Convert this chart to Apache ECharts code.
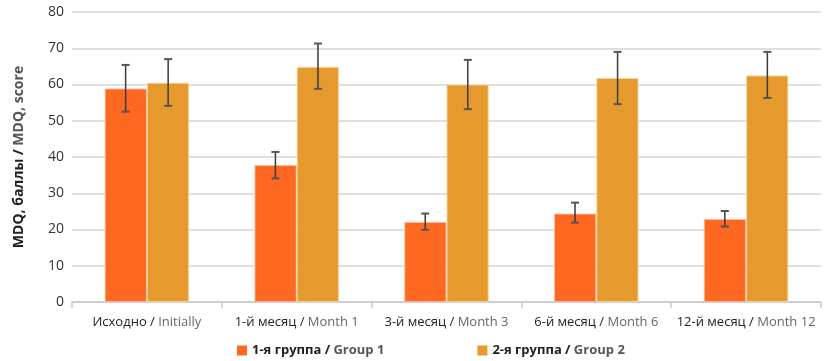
<!DOCTYPE html>
<html>
<head>
<meta charset="utf-8">
<script src="https://cdn.jsdelivr.net/npm/echarts@6/dist/echarts.min.js"></script>
<style>html,body{margin:0;padding:0;background:#fff}#c{width:835px;height:361px}</style>
</head>
<body>
<div id="c"></div>
<script>
var catsRu = ['Исходно', '1-й месяц', '3-й месяц', '6-й месяц', '12-й месяц'];
var catsEn = ['Initially', 'Month 1', 'Month 3', 'Month 6', 'Month 12'];
var group1 = [58.9, 37.8, 22.1, 24.4, 22.9];
var group1Low = [52.5, 34.1, 19.9, 21.9, 20.8];
var group1High = [65.4, 41.4, 24.4, 27.4, 25.1];
var group2 = [60.5, 64.9, 60.0, 61.8, 62.5];
var group2Low = [54.1, 58.8, 53.2, 54.6, 56.3];
var group2High = [67.0, 71.3, 66.8, 69.0, 69.0];
var yTicks = [0, 10, 20, 30, 40, 50, 60, 70, 80];
var seriesRu = ['1-я группа', '2-я группа'];
var seriesEn = ['Group 1', 'Group 2'];

var FONT = '"Open Sans", "Noto Sans", sans-serif';
var cats = catsRu.map(function (r, i) { return r + '|' + catsEn[i]; });
var names = seriesRu.map(function (r, i) { return r + ' / ' + seriesEn[i]; });

function errData(lo, hi) {
  return lo.map(function (l, i) { return [i, l, hi[i]]; });
}
function errSeries(lo, hi, side) {
  return {
    type: 'custom',
    data: errData(lo, hi),
    z: 10,
    silent: true,
    renderItem: function (params, api) {
      var idx = api.value(0);
      var pLo = api.coord([idx, api.value(1)]);
      var pHi = api.coord([idx, api.value(2)]);
      var band = api.size([1, 0])[0];
      var x = pLo[0] + side * band * 0.142;
      var cap = 4;
      var st = { stroke: '#3a3a3a', lineWidth: 1.5 };
      return {
        type: 'group',
        children: [
          { type: 'line', shape: { x1: x, y1: pLo[1], x2: x, y2: pHi[1] }, style: st },
          { type: 'line', shape: { x1: x - cap, y1: pLo[1], x2: x + cap, y2: pLo[1] }, style: { stroke: '#555', lineWidth: 2 } },
          { type: 'line', shape: { x1: x - cap, y1: pHi[1], x2: x + cap, y2: pHi[1] }, style: { stroke: '#555', lineWidth: 2 } }
        ]
      };
    }
  };
}

var chart = echarts.init(document.getElementById('c'));
chart.setOption({
  animation: false,
  textStyle: { fontFamily: FONT },
  grid: { left: 72, right: 14, top: 12, bottom: 59, containLabel: false },
  legend: {
    data: names,
    left: 232,
    top: 339,
    itemWidth: 10,
    itemHeight: 10,
    itemGap: 93,
    icon: 'rect',
    itemStyle: { borderWidth: 0 },
    formatter: function (n) {
      var p = n.split(' / ');
      return '{a|' + p[0] + ' / }{b|' + p[1] + '}';
    },
    textStyle: {
      fontFamily: FONT,
      fontSize: 13,
      fontWeight: 'bold',
      rich: {
        a: { fontFamily: FONT, fontSize: 13, fontWeight: 'bold', color: '#222' },
        b: { fontFamily: FONT, fontSize: 13, fontWeight: 'bold', color: '#555' }
      }
    }
  },
  xAxis: {
    type: 'category',
    data: cats,
    axisLine: { lineStyle: { color: '#c8c8c8', width: 1.5 } },
    axisTick: { show: true, length: 6, lineStyle: { color: '#c8c8c8', width: 1.5 } },
    axisLabel: {
      interval: 0,
      margin: 14,
      formatter: function (v) {
        var p = v.split('|');
        return '{a|' + p[0] + ' / }{b|' + p[1] + '}';
      },
      rich: {
        a: { fontFamily: FONT, fontSize: 13, color: '#222' },
        b: { fontFamily: FONT, fontSize: 13, color: '#666' }
      }
    }
  },
  yAxis: {
    type: 'value',
    min: yTicks[0],
    max: yTicks[yTicks.length - 1],
    interval: 10,
    name: '{a|MDQ, баллы / }{b|MDQ, score}',
    nameLocation: 'middle',
    nameGap: 46,
    nameRotate: 90,
    nameTextStyle: {
      rich: {
        a: { fontFamily: FONT, fontSize: 14, fontWeight: 'bold', color: '#222' },
        b: { fontFamily: FONT, fontSize: 14, fontWeight: 'bold', color: '#555' }
      }
    },
    axisLine: { show: false },
    axisTick: { show: false },
    axisLabel: { fontFamily: FONT, fontSize: 14, color: '#333', margin: 8 },
    splitLine: { lineStyle: { color: '#d4d4d4', width: 1.5 } }
  },
  series: [
    {
      name: names[0], type: 'bar', data: group1, barWidth: '28.2%', barGap: '0%',
      itemStyle: { color: '#FF6820', borderColor: 'rgba(255,190,160,0.8)', borderWidth: 1 }
    },
    {
      name: names[1], type: 'bar', data: group2, barWidth: '28.2%', barGap: '0%',
      itemStyle: { color: '#E69A2E', borderColor: 'rgba(250,215,160,0.9)', borderWidth: 1 }
    },
    errSeries(group1Low, group1High, -1),
    errSeries(group2Low, group2High, 1)
  ]
});
</script>
</body>
</html>
